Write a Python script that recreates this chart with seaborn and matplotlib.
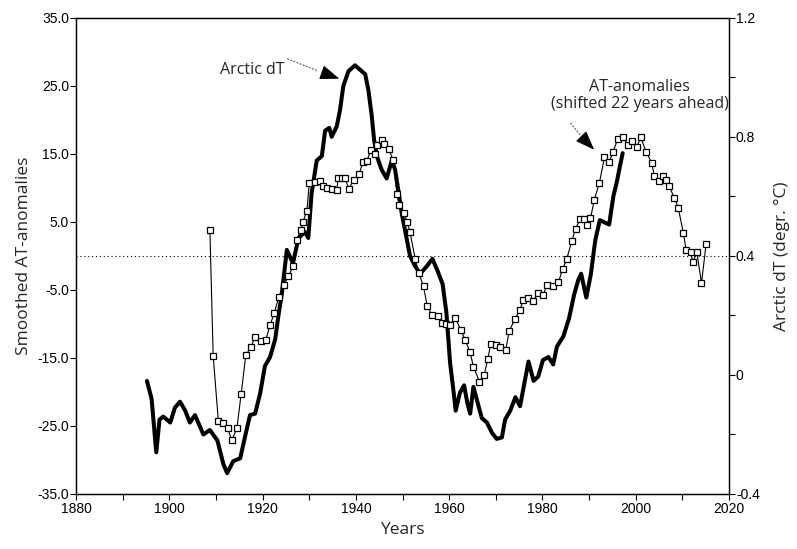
import numpy as np
import matplotlib
matplotlib.use("Agg")
import matplotlib.pyplot as plt
import matplotlib.ticker as mticker
import seaborn as sns

# Arctic dT (right axis, degr. C)
arctic_years = [1895.2, 1896.2, 1897.2, 1897.9, 1898.7, 1900.2, 1901.2, 1902.3, 1903.4, 1904.4,
                1905.5, 1907.3, 1908.7, 1910.3, 1911.6, 1912.4, 1913.7, 1915.2, 1916.2, 1917.3,
                1918.4, 1919.5, 1920.5, 1921.6, 1922.7, 1923.4, 1924.1, 1925.2, 1926.5, 1927.7,
                1929.1, 1929.8, 1930.5, 1931.6, 1932.7, 1933.4, 1934.3, 1934.8, 1935.9, 1936.6,
                1937.3, 1938.4, 1939.8, 1940.9, 1942.0, 1942.7, 1943.4, 1943.9, 1944.5, 1945.5,
                1946.6, 1947.7, 1948.4, 1949.1, 1949.8, 1950.8, 1951.6, 1952.7, 1953.8, 1955.2,
                1956.4, 1957.5, 1958.6, 1959.4, 1960.2, 1960.9, 1961.4, 1962.3, 1963.2, 1963.9,
                1964.5, 1965.2, 1966.3, 1967.0, 1968.1, 1969.2, 1970.2, 1971.3, 1972.0, 1973.1,
                1974.2, 1975.2, 1976.1, 1977.0, 1978.1, 1979.1, 1980.1, 1981.3, 1982.3, 1983.1,
                1984.5, 1985.7, 1986.8, 1987.7, 1988.3, 1989.4, 1990.4, 1991.3, 1992.3, 1994.3,
                1995.2, 1995.9, 1996.6, 1997.2]
arctic_dt = [-0.02, -0.08, -0.26, -0.15, -0.14, -0.16, -0.11, -0.09, -0.12, -0.16,
             -0.135, -0.20, -0.185, -0.22, -0.30, -0.33, -0.29, -0.28, -0.21, -0.135,
             -0.13, -0.06, 0.03, 0.06, 0.12, 0.20, 0.27, 0.42, 0.375, 0.46,
             0.48, 0.46, 0.61, 0.72, 0.735, 0.82, 0.83, 0.80, 0.835, 0.89,
             0.97, 1.02, 1.04, 1.025, 1.01, 0.955, 0.87, 0.79, 0.735, 0.69,
             0.66, 0.72, 0.69, 0.62, 0.545, 0.465, 0.40, 0.365, 0.34, 0.365,
             0.39, 0.35, 0.305, 0.21, 0.04, -0.05, -0.12, -0.06, -0.035, -0.095,
             -0.13, -0.04, -0.105, -0.145, -0.16, -0.195, -0.215, -0.21, -0.15, -0.12,
             -0.075, -0.105, -0.03, 0.045, -0.02, -0.005, 0.05, 0.06, 0.035, 0.095,
             0.13, 0.19, 0.27, 0.32, 0.34, 0.26, 0.34, 0.45, 0.52, 0.505,
             0.60, 0.645, 0.70, 0.745]

# Smoothed AT-anomalies, shifted 22 years ahead (left axis)
at_years = [1908.7, 1909.4, 1910.5, 1911.6, 1912.5, 1913.4, 1914.5, 1915.4, 1916.4, 1917.5,
            1918.4, 1919.7, 1920.7, 1921.6, 1922.5, 1923.5, 1924.6, 1925.5, 1926.6, 1927.3,
            1928.3, 1928.6, 1929.5, 1930.0, 1931.2, 1932.3, 1933.0, 1933.8, 1934.8, 1935.9,
            1936.2, 1937.0, 1937.7, 1938.5, 1939.5, 1940.7, 1941.5, 1942.3, 1943.2, 1944.0,
            1944.5, 1945.5, 1946.0, 1947.0, 1948.0, 1948.8, 1949.3, 1950.3, 1951.0, 1951.6,
            1952.7, 1953.5, 1954.5, 1955.3, 1956.3, 1957.5, 1958.4, 1959.3, 1960.2, 1961.3,
            1962.5, 1963.4, 1964.5, 1965.2, 1966.5, 1967.5, 1968.3, 1968.9, 1970.0, 1970.9,
            1972.1, 1972.9, 1974.1, 1975.2, 1975.9, 1977.0, 1978.0, 1979.1, 1980.2, 1980.9,
            1982.3, 1983.4, 1984.3, 1985.2, 1986.3, 1987.1, 1988.1, 1989.0, 1989.6, 1990.3,
            1991.1, 1992.2, 1993.3, 1994.3, 1995.1, 1996.1, 1997.2, 1998.3, 1999.1, 2000.2,
            2001.1, 2002.2, 2003.4, 2004.0, 2004.9, 2005.9, 2006.5, 2007.1, 2008.3, 2009.1,
            2010.2, 2010.8, 2011.8, 2012.2, 2013.1, 2014.1, 2015.1]
at_anom = [3.8, -14.7, -24.2, -24.6, -25.3, -27.1, -25.3, -20.3, -14.6, -13.4,
           -11.9, -12.5, -12.3, -10.2, -8.4, -6.0, -4.3, -3.0, -1.5, 2.4,
           3.8, 4.9, 6.6, 10.7, 10.8, 11.0, 10.2, 9.9, 9.8, 9.7,
           11.4, 11.4, 11.4, 9.8, 11.2, 12.0, 13.8, 13.9, 15.5, 15.0,
           16.3, 17.0, 16.4, 15.7, 14.1, 9.1, 7.5, 6.3, 5.0, 3.5,
           -0.4, -2.5, -4.5, -7.4, -8.7, -8.8, -9.8, -10.0, -10.1, -9.1,
           -10.9, -12.3, -14.2, -16.3, -18.5, -17.5, -15.1, -13.0, -13.1, -13.4,
           -13.9, -11.0, -9.3, -7.9, -6.5, -6.2, -6.6, -5.5, -5.8, -4.3,
           -4.5, -3.9, -2.0, -0.5, 2.2, 4.0, 5.4, 5.4, 4.5, 5.5,
           8.2, 10.7, 14.5, 13.8, 15.2, 17.1, 17.5, 16.3, 16.9, 16.0,
           17.4, 15.3, 13.7, 11.7, 11.0, 11.7, 11.2, 10.3, 8.5, 7.1,
           3.4, 0.9, 0.5, -0.9, 0.5, -4.0, 1.8]

left_ticks = [-35, -25, -15, -5, 5, 15, 25, 35]
right_ticks = [-0.4, 0, 0.4, 0.8, 1.2]
year_ticks = [1880, 1900, 1920, 1940, 1960, 1980, 2000, 2020]

sns.set_style("ticks")
plt.rcParams['axes.unicode_minus'] = False
label_font = "Open Sans"
tick_font = "Liberation Sans"

fig = plt.figure(figsize=(7.97, 5.49), dpi=100)
ax = fig.add_axes([0.0954, 0.1002, 0.8193, 0.8676])
ax2 = ax.twinx()

# thick Arctic dT curve underneath the marker series
sns.lineplot(x=arctic_years, y=arctic_dt, ax=ax2, color="black", lw=2.9,
             sort=False, estimator=None)
sns.lineplot(x=at_years, y=at_anom, ax=ax, color="black", lw=0.8, sort=False,
             estimator=None, marker="s", markersize=4.8, markerfacecolor="white",
             markeredgecolor="black", markeredgewidth=0.9)
ax.set_zorder(ax2.get_zorder() + 1)
ax.patch.set_visible(False)

ax.axhline(0, color="black", lw=0.8, ls=(0, (1, 2.5)), zorder=1)

ax.set_xlim(1880, 2020)
ax.set_ylim(-35, 35)
ax2.set_ylim(-0.4, 1.2)

ax.set_xticks(year_ticks)
ax.xaxis.set_minor_locator(mticker.MultipleLocator(10))
ax.set_yticks(left_ticks)
ax.yaxis.set_major_formatter(mticker.FormatStrFormatter('%.1f'))
ax2.set_yticks(right_ticks)
ax2.yaxis.set_minor_locator(mticker.MultipleLocator(0.2))
ax2.yaxis.set_major_formatter(mticker.FuncFormatter(lambda v, p: '%g' % round(v, 2)))

for a in (ax, ax2):
    a.tick_params(which="both", direction="out", length=4, width=0.8, colors="black",
                  labelsize=10)
    for lab in a.get_xticklabels() + a.get_yticklabels():
        lab.set_family(tick_font)
    for s in a.spines.values():
        s.set_linewidth(0.9)
        s.set_color("black")
ax.tick_params(axis="x", pad=2)
ax.tick_params(axis="y", pad=1)
ax2.tick_params(axis="y", pad=1)

ax.set_xlabel("Years", fontsize=12.5, family=label_font, labelpad=4)
ax.set_ylabel("Smoothed AT-anomalies", fontsize=12.5, family=label_font, labelpad=4)
ax2.set_ylabel("Arctic dT (degr. °C)", fontsize=12.5, family=label_font, labelpad=10)

# annotations
ax.text(1917.7, 27.3, "Arctic dT", ha="center", va="center", fontsize=11.5, family=label_font)
ax.annotate("", xy=(1932.5, 27.0), xytext=(1924.8, 29.1),
            arrowprops=dict(arrowstyle="-", ls=(0, (1, 2)), lw=0.8, color="0.3"))
ax.annotate("", xy=(1937.0, 25.9), xytext=(1932.5, 27.0),
            arrowprops=dict(arrowstyle="-|>,head_length=1.2,head_width=0.45",
                            lw=0.8, color="black"))

ax.text(2000.9, 23.6, "AT-anomalies\n(shifted 22 years ahead)", ha="center", va="center",
        fontsize=11.5, family=label_font, linespacing=1.05)
ax.annotate("", xy=(1988.4, 17.5), xytext=(1985.7, 19.8),
            arrowprops=dict(arrowstyle="-", ls=(0, (1, 2)), lw=0.8, color="0.3"))
ax.annotate("", xy=(1991.5, 15.3), xytext=(1988.4, 17.5),
            arrowprops=dict(arrowstyle="-|>,head_length=1.2,head_width=0.45",
                            lw=0.8, color="black"))

fig.savefig("out.png", dpi=100)
